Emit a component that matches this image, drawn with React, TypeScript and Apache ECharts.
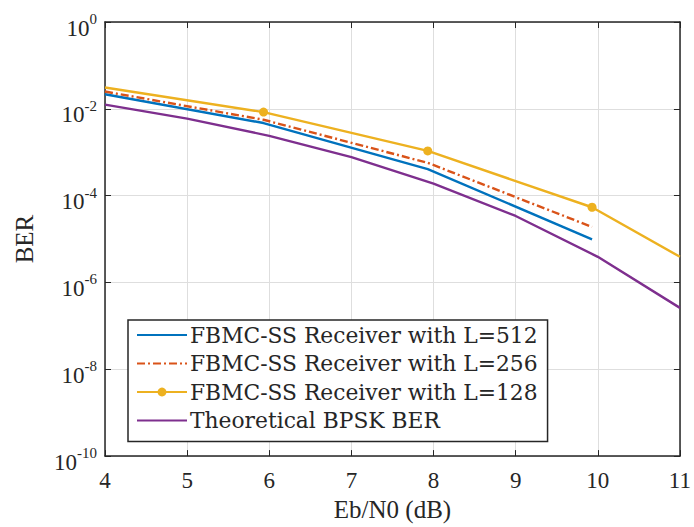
import React, { useEffect, useRef } from "react";
import * as echarts from "echarts";

const xTicks = [4, 5, 6, 7, 8, 9, 10, 11];
const simX = [4, 5.93, 7.93, 9.93];
const berL512 = [0.0216, 0.0047, 4.1e-4, 9.8e-6];
const berL256 = [0.025, 0.0056, 5.7e-4, 1.9e-5];
const l128X = [4, 5.93, 7.93, 9.93, 11];
const berL128 = [0.031, 0.0084, 1.07e-3, 5.4e-5, 3.9e-6];
const l128Marked = [false, true, true, true, false];
const theoryX = [4, 5, 6, 7, 8, 9, 10, 11];
const berTheory = [0.0125, 0.00595, 0.00239, 7.7e-4, 1.9e-4, 3.4e-5, 3.9e-6, 2.6e-7];
const seriesNames = [
  "FBMC-SS Receiver with L=512",
  "FBMC-SS Receiver with L=256",
  "FBMC-SS Receiver with L=128",
  "Theoretical BPSK BER",
];

const FONT = "'Liberation Serif', serif";
const LFONT = "'DejaVu Serif', serif";
const INK = "#262626";

export default function App() {
  const ref = useRef<HTMLDivElement>(null);
  useEffect(() => {
    if (!ref.current) return;
    const chart = echarts.init(ref.current, undefined, { renderer: "svg" });
    const pair = (xs: number[], ys: number[]) => xs.map((x, i) => [x, ys[i]]);
    const axisCommon = {
      axisLine: { show: true, onZero: false, lineStyle: { color: INK, width: 1.5 } },
      axisTick: { show: true, inside: true, length: 6, lineStyle: { color: INK, width: 1 } },
    };
    const logFmt = (v: number) => {
      const e = Math.round(Math.log10(v));
      return "{base|10}{sup|" + e + "}";
    };
    chart.setOption({
      animation: false,
      backgroundColor: "#ffffff",
      grid: { left: 105, right: 11, top: 22, bottom: 66 },
      xAxis: [
        {
          type: "value",
          min: 4,
          max: 11,
          interval: 1,
          ...axisCommon,
          axisLabel: { color: INK, fontFamily: FONT, fontSize: 23, margin: 13 },
          splitLine: { show: true, lineStyle: { color: "#dedede", width: 1 } },
          name: "Eb/N0 (dB)",
          nameLocation: "middle",
          nameGap: 40,
          nameTextStyle: { color: INK, fontFamily: FONT, fontSize: 25 },
        },
        {
          type: "value",
          position: "top",
          min: 4,
          max: 11,
          interval: 1,
          ...axisCommon,
          axisLabel: { show: false },
          splitLine: { show: false },
        },
      ],
      yAxis: [
        {
          type: "log",
          logBase: 10,
          min: 1e-10,
          max: 1,
          interval: 2,
          ...axisCommon,
          axisLabel: {
            formatter: logFmt,
            margin: 8,
            color: INK,
            fontFamily: FONT,
            fontSize: 23,
            rich: {
              base: { fontSize: 23, fontFamily: FONT, color: INK, padding: [12, 0, 0, 0] },
              sup: { fontSize: 15, fontFamily: FONT, color: INK, padding: [0, 0, 6, 0] },
            },
          },
          splitLine: { show: true, lineStyle: { color: "#dedede", width: 1 } },
          name: "BER",
          nameLocation: "middle",
          nameGap: 68,
          nameTextStyle: { color: INK, fontFamily: FONT, fontSize: 25 },
        },
        {
          type: "log",
          logBase: 10,
          position: "right",
          min: 1e-10,
          max: 1,
          interval: 2,
          ...axisCommon,
          axisLabel: { show: false },
          splitLine: { show: false },
        },
      ],
      legend: {
        orient: "vertical",
        left: 128,
        top: 320,
        backgroundColor: "#ffffff",
        borderColor: INK,
        borderWidth: 1.5,
        borderRadius: 0,
        padding: [3, 10, 9, 8],
        itemWidth: 50,
        itemHeight: 11,
        itemGap: 4.5,
        textStyle: { color: INK, fontFamily: LFONT, fontSize: 21.8, lineHeight: 24, padding: [0, 0, 0, -2] },
        data: [
          { name: seriesNames[0], itemStyle: { opacity: 0 } },
          { name: seriesNames[1], itemStyle: { opacity: 0 } },
          { name: seriesNames[2] },
          { name: seriesNames[3], itemStyle: { opacity: 0 } },
        ],
      },
      series: [
        {
          name: seriesNames[0],
          type: "line",
          data: pair(simX, berL512),
          showSymbol: false,
          symbol: "none",
          lineStyle: { color: "#0072BD", width: 2.4 },
          itemStyle: { color: "#0072BD" },
          z: 3,
        },
        {
          name: seriesNames[1],
          type: "line",
          data: pair(simX, berL256),
          showSymbol: false,
          symbol: "none",
          lineStyle: { color: "#D95319", width: 2.4, type: [8, 3, 2, 3] },
          itemStyle: { color: "#D95319" },
          z: 3,
        },
        {
          name: seriesNames[2],
          type: "line",
          data: l128X.map((x, i) => ({
            value: [x, berL128[i]],
            symbol: l128Marked[i] ? "circle" : "none",
          })),
          symbol: "circle",
          symbolSize: 9,
          showSymbol: true,
          lineStyle: { color: "#EDB120", width: 2.4 },
          itemStyle: { color: "#EDB120" },
          z: 3,
        },
        {
          name: seriesNames[3],
          type: "line",
          data: pair(theoryX, berTheory),
          showSymbol: false,
          symbol: "none",
          lineStyle: { color: "#7E2F8E", width: 2.4 },
          itemStyle: { color: "#7E2F8E" },
          z: 3,
        },
      ],
    });
    return () => chart.dispose();
  }, []);
  return <div ref={ref} style={{ width: 694, height: 527, position: "absolute", left: 0, top: 0 }} />;
}
